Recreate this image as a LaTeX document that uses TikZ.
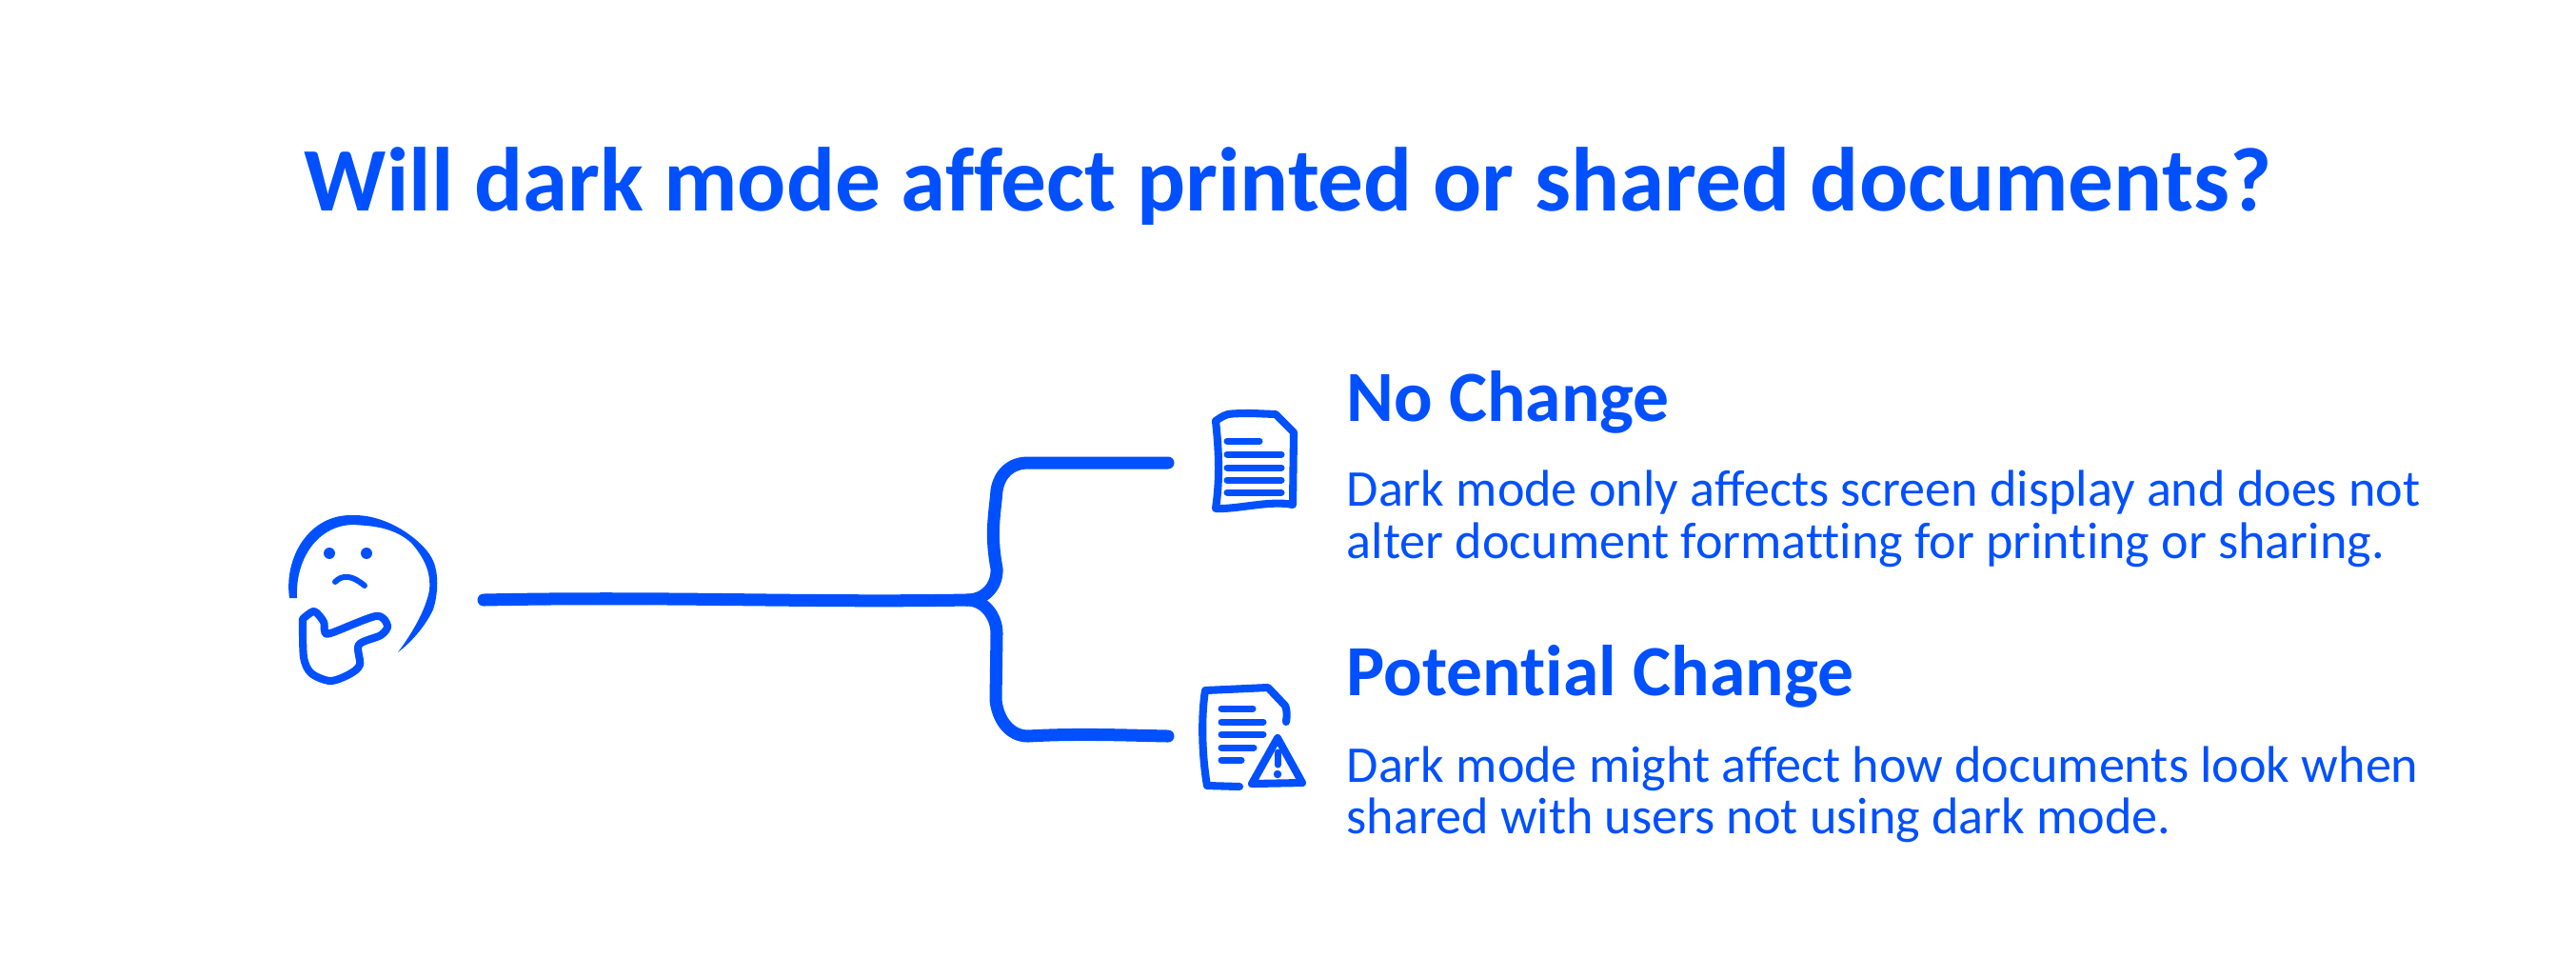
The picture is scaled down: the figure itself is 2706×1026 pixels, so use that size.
\documentclass[tikz,border=0pt]{standalone}
\usepackage{fontspec}
\setmainfont[Ligatures=NoCommon]{Carlito}
\definecolor{inkblue}{HTML}{0050FF}
\begin{document}
\begin{tikzpicture}[x=0.01cm,y=-0.01cm,line cap=round,line join=round,
  branch/.style={draw=inkblue,line width=3.7pt},
  sketch/.style={draw=inkblue,line width=2.3pt},
  rule/.style={draw=inkblue,line width=2pt},
  heading/.style={anchor=base west,inner sep=0pt,text=inkblue,font=\fontsize{21.5}{24}\selectfont\bfseries},
  body/.style={anchor=base west,inner sep=0pt,text=inkblue,font=\fontsize{15.4}{17}\selectfont}]
\useasboundingbox[fill=white] (0,0) rectangle (2706,1026);
\node[anchor=base,inner sep=0pt,text=inkblue,font=\fontsize{27.1}{30}\selectfont\bfseries] (title) at (1353,221)
  {Will dark mode affect printed or shared documents?};
% person
\fill[inkblue] (304,628) .. controls (298,585) and (325,540) .. (370,541)
  .. controls (410,540) and (445,570) .. (453,585) .. controls (462,600) and (460,625) .. (455,640)
  .. controls (448,655) and (435,672) .. (418,685) .. controls (435,662) and (447,640) .. (451,620)
  .. controls (453,600) and (445,585) .. (432,570) .. controls (415,555) and (395,552) .. (370,551)
  .. controls (335,552) and (310,585) .. (312,628) -- cycle;
\fill[inkblue] (346,581) circle (1.7pt) (385,581) circle (1.7pt);
\draw[sketch,line width=1.7pt] (352,611) .. controls (360,603) and (370,604) .. (383,615);
\draw[sketch] plot[smooth] coordinates {(318,650) (330,642) (340,653) (341,662) (347,665) (395,647)
  (407,657) (400,667) (377,677) (378,698) (367,708) (347,715) (327,707) (319,690) (318,650)};
% connector
\coordinate (start) at (508,630);
\coordinate (fork) at (1016,630);
\coordinate (topend) at (1227,486);
\coordinate (bottomend) at (1227,773);
\draw[branch] (start) .. controls (700,626) and (850,633) .. (fork)
  .. controls (1035,630) and (1048,615) .. (1047,597) .. controls (1040,560) and (1045,540) .. (1047,515)
  .. controls (1050,497) and (1062,486) .. (1080,486) -- (topend);
\draw[branch] (fork) .. controls (1035,630) and (1047,648) .. (1047,665) -- (1046,735)
  .. controls (1048,755) and (1060,773) .. (1080,773) .. controls (1130,770) and (1180,772) .. (bottomend);
% first document
\draw[sketch] plot[smooth] coordinates {(1277,442) (1290,435) (1315,434)} -- (1340,435) -- (1359,454)
  -- (1358,530) .. controls (1335,525) and (1300,535) .. (1277,534) .. controls (1282,500) and (1280,470) .. (1277,442) -- cycle;
\foreach \liney/\lineend in {463/1323,477/1346,491/1346,504/1346,517/1346}
  \draw[rule] (1289,\liney) -- (\lineend,\liney);
% second document
\draw[sketch] (1302,826) -- (1268,825) .. controls (1262,790) and (1262,750) .. (1266,725) -- (1332,722)
  -- (1350,741) .. controls (1352,745) and (1352,752) .. (1351,758);
\foreach \liney/\lineend in {744/1316,758/1327,771/1327,785/1317,798/1304}
  \draw[rule] (1283,\liney) -- (\lineend,\liney);
\draw[sketch] (1342,775) -- (1315,823) -- (1368,822) -- cycle;
\draw[rule] (1342,790) -- (1342,803);
\fill[inkblue] (1342,813) circle (1.2pt);
% labels
\node[heading] (nochange) at (1414,442) {No Change};
\node[body] (nochangeone) at (1414,531) {Dark mode only affects screen display and does not};
\node[body] (nochangetwo) at (1414,586) {alter document formatting for printing or sharing.};
\node[heading] (potential) at (1414,730) {Potential Change};
\node[body] (potentialone) at (1414,821) {Dark mode might affect how documents look when};
\node[body] (potentialtwo) at (1414,875) {shared with users not using dark mode.};
\end{tikzpicture}
\end{document}
